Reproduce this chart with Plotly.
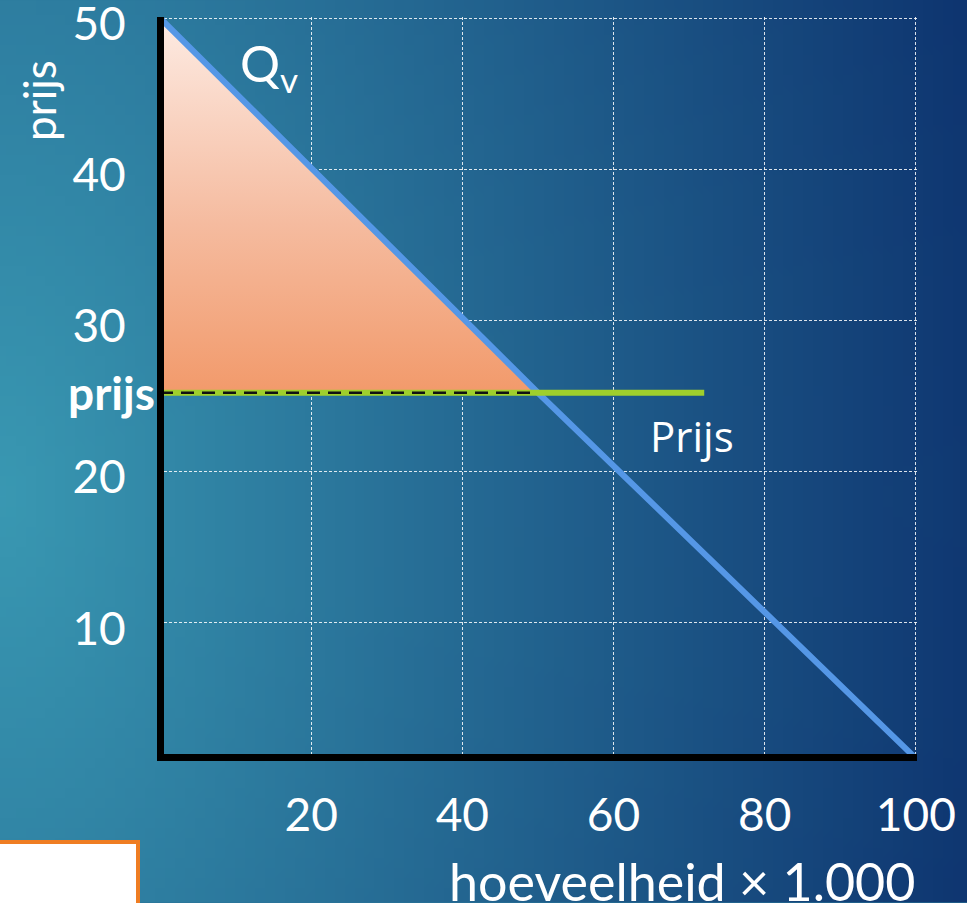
import zlib, struct, base64, math
import plotly.graph_objects as go

# ---- data ----
quantity_demand = [0, 50, 100]
price_demand = [50, 25.2, 1.0]
market_price = 25.2
price_line_x = [0, 72]
surplus_x = [0, 0, 50, 0]
surplus_y = [50, 25.2, 25.2, 50]
x_ticks = [20, 40, 60, 80, 100]
y_ticks = [10, 20, 30, 40, 50]

W, H = 967, 903
L, R, T, B = 164, 917, 17, 754.5
pw, ph = R - L, B - T


# ---- background gradient image ----
def make_png(w, h, fn):
    rows = []
    for y in range(h):
        row = bytearray(b'\x00')
        for x in range(w):
            row.extend(fn(x, y))
        rows.append(bytes(row))
    raw = b''.join(rows)

    def chunk(t, d):
        c = struct.pack('>I', len(d)) + t + d
        return c + struct.pack('>I', zlib.crc32(t + d) & 0xffffffff)

    return (b'\x89PNG\r\n\x1a\n' + chunk(b'IHDR', struct.pack('>IIBBBBB', w, h, 8, 2, 0, 0, 0))
            + chunk(b'IDAT', zlib.compress(raw)) + chunk(b'IEND', b''))


c1 = (57, 152, 178)
c2 = (14, 53, 112)
iw, ih = 97, 90
vf = 0.5
norm = math.sqrt(1 + (vf * 0.55) ** 2)


def pix(x, y):
    u, v = x / (iw - 1), y / (ih - 1)
    t = min(1.0, math.sqrt(u * u + (vf * (v - 0.55)) ** 2) / norm)
    return bytes(int(round(a + (b - a) * t)) for a, b in zip(c1, c2))


bg = "data:image/png;base64," + base64.b64encode(make_png(iw, ih, pix)).decode()

fig = go.Figure()

fig.add_trace(go.Scatter(
    x=surplus_x, y=surplus_y, mode="lines", fill="toself",
    fillgradient=dict(type="vertical", colorscale=[[0, "#f29a6b"], [0.45, "#f5bb9f"], [1, "#fdebe3"]]),
    line=dict(color="#d2652a", width=1.5), hoverinfo="skip", showlegend=False))

fig.add_trace(go.Scatter(
    x=quantity_demand, y=price_demand, mode="lines",
    line=dict(color="#5597e6", width=6), showlegend=False))

fig.add_trace(go.Scatter(
    x=price_line_x, y=[market_price] * len(price_line_x), mode="lines",
    line=dict(color="#9fcf2c", width=6), showlegend=False))

fig.add_trace(go.Scatter(
    x=[0, 50], y=[market_price, market_price], mode="lines",
    line=dict(color="#111111", width=2.5, dash="13px,8px"), showlegend=False))

font_main = "Lato, 'DejaVu Sans', sans-serif"

fig.update_layout(
    width=W, height=H,
    margin=dict(l=L, r=W - R, t=T, b=H - B),
    paper_bgcolor="#2a7498", plot_bgcolor="rgba(0,0,0,0)",
    showlegend=False,
    images=[dict(source=bg, xref="paper", yref="paper", x=-L / pw, y=1 + T / ph,
                 sizex=W / pw, sizey=H / ph, sizing="stretch", xanchor="left", yanchor="top",
                 layer="below")],
    xaxis=dict(range=[4 / 7.57, 100.15], tickvals=x_ticks, ticktext=[str(v) for v in x_ticks],
               automargin=False,
               showgrid=True, gridcolor="rgba(255,255,255,0.85)", gridwidth=1, griddash="3px,2px",
               zeroline=False, showline=True, linecolor="black", linewidth=7,
               ticks="outside", ticklen=15, tickcolor="rgba(0,0,0,0)", ticklabeloverflow="allow",
               tickfont=dict(family=font_main, size=46, color="white")),
    yaxis=dict(range=[1.29, 50.07], tickvals=y_ticks, ticktext=[str(v) for v in y_ticks],
               automargin=False,
               showgrid=True, gridcolor="rgba(255,255,255,0.85)", gridwidth=1, griddash="3px,2px",
               zeroline=False, showline=True, linecolor="black", linewidth=7,
               ticks="outside", ticklen=22, tickcolor="rgba(0,0,0,0)", ticklabelshift=6,
               ticklabeloverflow="allow",
               tickfont=dict(family=font_main, size=46, color="white")),
    shapes=[dict(type="rect", xref="paper", yref="paper",
                 x0=(-10 - L) / pw, x1=(138 - L) / pw,
                 y0=(B - 842.5) / ph, y1=(B - 930) / ph,
                 line=dict(color="#ef7d22", width=4), fillcolor="white")],
    annotations=[
        dict(text="prijs", xref="paper", yref="paper", x=(39 - L) / pw, y=(B - 101) / ph,
             xanchor="center", yanchor="middle",
             textangle=-90, showarrow=False, font=dict(family=font_main, size=44, color="white")),
        dict(text="prijs", xref="paper", yref="y", x=0, y=market_price, xanchor="right",
             yanchor="middle", xshift=-7,
             showarrow=False, font=dict(family=font_main, size=46, color="white", weight="bold")),
        dict(text="Q<sub>v</sub>", xref="x", yref="y", x=14.4, y=46.8, xanchor="center",
             yanchor="middle", showarrow=False,
             font=dict(family=font_main, size=50, color="white")),
        dict(text="Prijs", xref="x", yref="y", x=70.4, y=22.4, xanchor="center", yanchor="middle",
             showarrow=False,
             font=dict(family="'Open Sans', sans-serif", size=42, color="white")),
        dict(text="hoeveelheid × 1.000", xref="paper", yref="paper", x=1, y=(B - 903) / ph,
             xanchor="right", yanchor="bottom", yshift=-12, showarrow=False,
             font=dict(family=font_main, size=52, color="white")),
    ],
)

fig.write_html("out.html", config={"displayModeBar": False},
               post_script="document.body.style.margin='0px';")
